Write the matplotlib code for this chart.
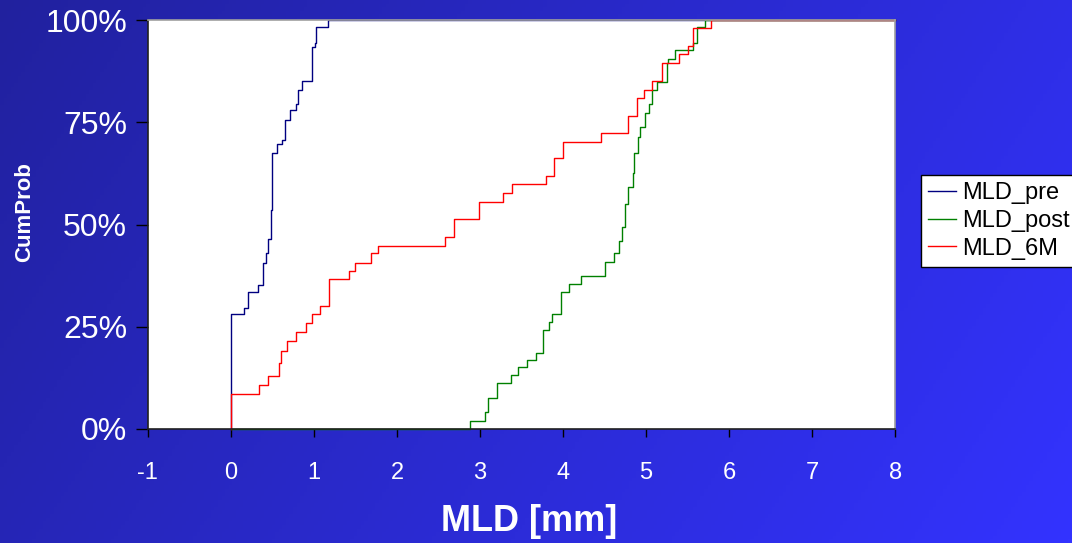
import numpy as np
import matplotlib
matplotlib.use('Agg')
import matplotlib.pyplot as plt
from matplotlib.ticker import PercentFormatter

plt.rcParams['font.family'] = ['Liberation Sans', 'DejaVu Sans']
plt.rcParams['axes.unicode_minus'] = False

# Cumulative distributions (x in mm, cumulative probability)
pre_x = [0, 0, 0.16, 0.21, 0.32, 0.39, 0.42, 0.45, 0.48, 0.50, 0.56, 0.62, 0.65,
         0.71, 0.78, 0.81, 0.86, 0.98, 1.01, 1.03, 1.17, 8]
pre_y = [0, 0.281, 0.297, 0.335, 0.353, 0.405, 0.430, 0.464, 0.535, 0.674, 0.698,
         0.707, 0.755, 0.780, 0.795, 0.829, 0.852, 0.935, 0.943, 0.982, 1.0, 1.0]

post_x = [0, 2.88, 3.06, 3.10, 3.21, 3.37, 3.46, 3.57, 3.68, 3.76, 3.83, 3.87, 3.97,
          4.07, 4.22, 4.51, 4.61, 4.68, 4.71, 4.75, 4.78, 4.84, 4.86, 4.90, 4.93,
          4.99, 5.03, 5.07, 5.13, 5.25, 5.27, 5.35, 5.57, 5.61, 5.71, 8]
post_y = [0, 0.020, 0.041, 0.075, 0.113, 0.132, 0.151, 0.169, 0.187, 0.242, 0.261,
          0.280, 0.334, 0.354, 0.374, 0.408, 0.430, 0.460, 0.495, 0.550, 0.592,
          0.625, 0.674, 0.715, 0.739, 0.772, 0.796, 0.829, 0.849, 0.894, 0.906,
          0.927, 0.945, 0.983, 1.0, 1.0]

m6_x = [0, 0, 0.34, 0.45, 0.58, 0.60, 0.68, 0.78, 0.90, 0.98, 1.07, 1.18, 1.42, 1.49,
        1.69, 1.77, 2.58, 2.69, 2.99, 3.28, 3.39, 3.80, 3.89, 4.00, 4.46, 4.78, 4.89,
        4.98, 5.07, 5.19, 5.40, 5.51, 5.56, 5.78, 8]
m6_y = [0, 0.086, 0.108, 0.130, 0.161, 0.191, 0.216, 0.236, 0.258, 0.280, 0.301,
        0.366, 0.386, 0.405, 0.430, 0.448, 0.470, 0.514, 0.554, 0.576, 0.598, 0.619,
        0.662, 0.703, 0.723, 0.766, 0.809, 0.830, 0.851, 0.894, 0.916, 0.936, 0.980,
        1.0, 1.0]

x_ticks = [-1, 0, 1, 2, 3, 4, 5, 6, 7, 8]
y_ticks = [0, 0.25, 0.5, 0.75, 1.0]

fig = plt.figure(figsize=(10.72, 5.43), dpi=100)

# blue gradient background
bg = fig.add_axes([0, 0, 1, 1], zorder=-10)
gx, gy = np.meshgrid(np.linspace(0, 1, 300), np.linspace(0, 1, 150))
t = 0.75 * gx + 0.25 * gy
c0 = np.array([0.13, 0.13, 0.62])
c1 = np.array([0.20, 0.20, 1.00])
img = c0[None, None, :] * (1 - t[..., None]) + c1[None, None, :] * t[..., None]
bg.imshow(img, aspect='auto', extent=[0, 1, 0, 1], origin='upper')
bg.axis('off')

ax = fig.add_axes([0.138, 0.210, 0.697, 0.753])
ax.set_facecolor('white')

ax.step(pre_x, pre_y, where='post', color='#000080', lw=1.0, label='MLD_pre', clip_on=False)
ax.step(post_x, post_y, where='post', color='#008000', lw=1.0, label='MLD_post', clip_on=False)
ax.step(m6_x, m6_y, where='post', color='#ff0000', lw=1.0, label='MLD_6M', clip_on=False)

ax.set_xlim(-1, 8)
ax.set_ylim(0, 1)
ax.set_xticks(x_ticks)
ax.set_yticks(y_ticks)
ax.yaxis.set_major_formatter(PercentFormatter(1.0, decimals=0))

ax.tick_params(axis='x', colors='black', labelcolor='white', labelsize=17,
               length=6, width=1, pad=18)
ax.tick_params(axis='y', colors='black', labelcolor='white', labelsize=23,
               length=9, width=1, pad=6)

for side in ['left', 'bottom']:
    ax.spines[side].set_color('#202020')
    ax.spines[side].set_linewidth(1.2)
for side in ['top', 'right']:
    ax.spines[side].set_color('#a0a0a0')
    ax.spines[side].set_linewidth(1.2)

ax.set_xlabel('MLD [mm]', color='white', fontsize=26, fontweight='bold', va='center')
ax.xaxis.set_label_coords(0.51, -0.227)
ax.set_ylabel('CumProb', color='white', fontsize=16, fontweight='bold', va='center')
ax.yaxis.set_label_coords(-0.165, 0.53)

leg = fig.legend(loc='upper left', bbox_to_anchor=(0.859, 0.678), fontsize=17,
                 frameon=True, fancybox=False, edgecolor='black', framealpha=1,
                 handlelength=1.2, handletextpad=0.25, labelspacing=0.25,
                 borderpad=0.3, borderaxespad=0)
leg.get_frame().set_linewidth(1.0)

fig.savefig('out.png', dpi=100)
